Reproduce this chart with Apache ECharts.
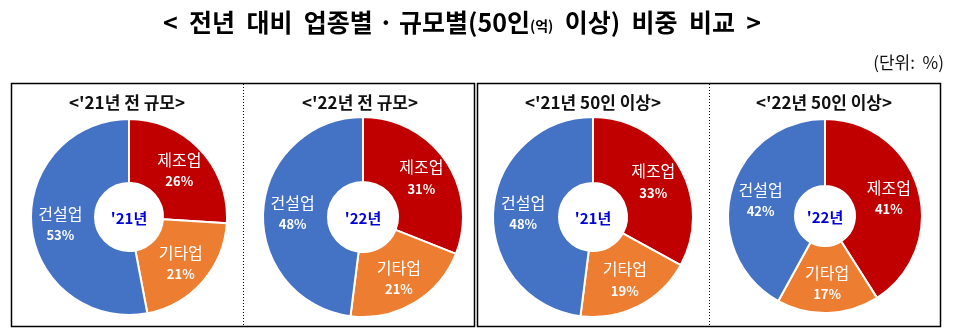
<!DOCTYPE html>
<html>
<head>
<meta charset="utf-8">
<script src="https://cdn.jsdelivr.net/npm/echarts@6/dist/echarts.min.js"></script>
<style>
html,body{margin:0;padding:0;background:#fff;}
#c{width:953px;height:335px;}
</style>
</head>
<body>
<div id="c"></div>
<script>
const categories = ['제조업', '기타업', '건설업'];
const chartTitles = ["<'21년 전 규모>", "<'22년 전 규모>", "<'21년 50인 이상>", "<'22년 50인 이상>"];
const centerLabels = ["'21년", "'22년", "'21년", "'22년"];
const values21All = [26, 21, 53];
const values22All = [31, 21, 48];
const values21Over50 = [33, 19, 48];
const values22Over50 = [41, 17, 42];
const colors = ['#C00000', '#ED7D31', '#4472C4'];

const allValues = [values21All, values22All, values21Over50, values22Over50];
const centers = [[129, 217], [363, 217], [593, 217], [825, 216]];
const radii = [[34, 98], [35, 100], [34, 100], [30, 97]];
const FONT = '"Noto Sans CJK KR", "Malgun Gothic", sans-serif';

const chart = echarts.init(document.getElementById('c'), null, {renderer: 'canvas'});

const series = allValues.map((vals, i) => ({
  type: 'pie',
  center: centers[i],
  radius: radii[i],
  startAngle: 90,
  clockwise: true,
  silent: true,
  animation: false,
  itemStyle: {borderColor: '#fff', borderWidth: 2},
  label: {
    show: true,
    position: 'inside',
    formatter: '{n|{b}}\n{p|{c}%}',
    rich: {
      n: {fontFamily: FONT, fontSize: 16, color: '#fff', lineHeight: 23},
      p: {fontFamily: FONT, fontSize: 13, fontWeight: 'bold', color: '#fff', lineHeight: 20}
    }
  },
  labelLine: {show: false},
  data: categories.map((c, k) => ({name: c, value: vals[k], itemStyle: {color: colors[k]}}))
}));

const graphics = [];
// main title
graphics.push({type: 'text', x: 462, y: 22, silent: true, style: {
  text: '{a|<  전년  대비  업종별 · 규모별(50인}{s|(억)}{a|  이상)  비중  비교  >}',
  textAlign: 'center', textVerticalAlign: 'middle',
  rich: {
    a: {fontFamily: FONT, fontSize: 25, fontWeight: 'bold', fill: '#000', color: '#000'},
    s: {fontFamily: FONT, fontSize: 14, fontWeight: 'bold', fill: '#000', color: '#000', padding: [7, 0, 0, 0]}
  }
}});
// outer frames
graphics.push({type: 'rect', shape: {x: 11.5, y: 83.5, width: 463, height: 243}, style: {fill: null, stroke: '#000', lineWidth: 1.5}, silent: true});
graphics.push({type: 'rect', shape: {x: 477.5, y: 83.5, width: 463, height: 243}, style: {fill: null, stroke: '#000', lineWidth: 1.5}, silent: true});
// dotted dividers
graphics.push({type: 'line', shape: {x1: 243.5, y1: 84, x2: 243.5, y2: 326}, style: {stroke: '#000', lineWidth: 1, lineDash: [1, 2]}, silent: true});
graphics.push({type: 'line', shape: {x1: 709.5, y1: 84, x2: 709.5, y2: 326}, style: {stroke: '#000', lineWidth: 1, lineDash: [1, 2]}, silent: true});

const titleX = [127, 360, 593, 824];
chartTitles.forEach((t, i) => {
  graphics.push({type: 'text', x: titleX[i], y: 103, silent: true, style: {
    text: t, fill: '#111', font: 'bold 17px ' + FONT, textAlign: 'center', textVerticalAlign: 'middle'}});
});
centerLabels.forEach((t, i) => {
  graphics.push({type: 'text', x: centers[i][0], y: centers[i][1] + 1, silent: true, style: {
    text: t, fill: '#0000DD', font: 'bold 15px ' + FONT, textAlign: 'center', textVerticalAlign: 'middle'}});
});
// unit
graphics.push({type: 'text', x: 944, y: 63, silent: true, style: {
  text: '(단위:  %)', fill: '#111', font: '17px ' + FONT, textAlign: 'right', textVerticalAlign: 'middle'}});

chart.setOption({
  backgroundColor: '#fff',
  animation: false,
  series: series,
  graphic: graphics
});
</script>
</body>
</html>
